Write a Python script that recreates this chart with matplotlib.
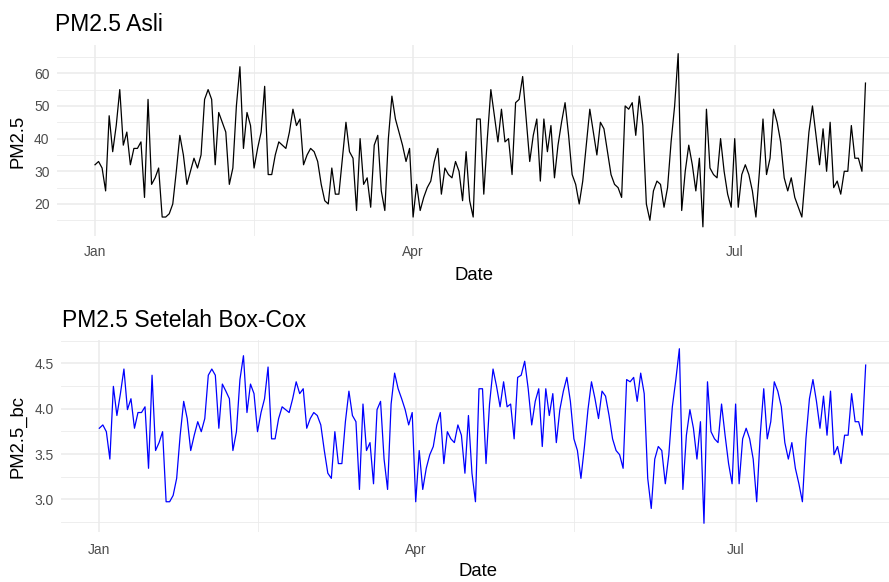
import matplotlib
matplotlib.use('Agg')
import matplotlib.pyplot as plt
import matplotlib.dates as mdates
from matplotlib.ticker import MultipleLocator, FixedLocator
import numpy as np
import pandas as pd

plt.rcParams['font.family'] = ['Liberation Sans', 'DejaVu Sans']

# daily PM2.5 values (1 Jan onwards)
pm25 = [32, 33, 31, 24, 47, 36, 44, 55, 38, 42, 32, 37, 37, 39, 22, 52, 26, 28, 31, 16,
        16, 17, 20, 30, 41, 35, 26, 30, 34, 31, 35, 52, 55, 52, 32, 48, 45, 42, 26, 31,
        50, 62, 37, 48, 44, 31, 37, 42, 56, 29, 29, 35, 39, 38, 37, 42, 49, 44, 46, 32,
        35, 37, 36, 33, 26, 21, 20, 31, 23, 23, 34, 45, 36, 34, 18, 40, 26, 28, 19, 38,
        41, 24, 18, 40, 53, 46, 42, 38, 33, 37, 16, 26, 18, 22, 25, 27, 33, 37, 23, 31,
        29, 28, 33, 30, 21, 36, 21, 16, 46, 46, 23, 40, 55, 47, 39, 49, 39, 40, 29, 51,
        52, 59, 46, 33, 41, 46, 27, 46, 36, 44, 28, 38, 45, 51, 41, 29, 26, 20, 27, 38,
        49, 42, 35, 45, 43, 36, 29, 26, 25, 22, 50, 49, 51, 41, 53, 44, 20, 15, 24, 27,
        26, 19, 25, 39, 50, 66, 18, 30, 38, 32, 24, 34, 13, 49, 31, 29, 28, 40, 30, 23,
        19, 40, 19, 29, 32, 29, 24, 16, 30, 46, 29, 34, 49, 45, 39, 28, 24, 28, 22, 19,
        16, 29, 42, 50, 41, 32, 43, 30, 45, 25, 27, 23, 30, 30, 44, 34, 34, 30, 57]
start_date = '2023-01-01'
bc_lambda = 0.05

month_ticks = ['2023-01-01', '2023-04-01', '2023-07-01']
mid_ticks = ['2023-02-15', '2023-05-16', '2023-08-16']

dates = pd.date_range(start_date, periods=len(pm25), freq='D')
pm25 = np.array(pm25, dtype=float)
pm25_bc = (pm25 ** bc_lambda - 1) / bc_lambda

W, H = 889, 582
fig = plt.figure(figsize=(W / 100, H / 100), dpi=100)

grey_text = '#4D4D4D'
grid_col = '#EBEBEB'


def px(x, y):
    return x / W, 1 - y / H


def style(ax, ymaj, ymin, xpad):
    ax.margins(x=0.05, y=0.05)
    ax.xaxis.set_major_locator(FixedLocator(mdates.date2num(pd.to_datetime(month_ticks))))
    ax.xaxis.set_minor_locator(FixedLocator(mdates.date2num(pd.to_datetime(mid_ticks))))
    ax.xaxis.set_major_formatter(mdates.DateFormatter('%b'))
    ax.yaxis.set_major_locator(MultipleLocator(ymaj))
    ax.yaxis.set_minor_locator(MultipleLocator(ymin))
    for s in ax.spines.values():
        s.set_visible(False)
    ax.tick_params(which='both', length=0, colors=grey_text, labelsize=10)
    ax.tick_params(axis='y', pad=5)
    ax.tick_params(axis='x', pad=xpad)
    ax.grid(which='major', color=grid_col, lw=1.1)
    ax.grid(which='minor', color=grid_col, lw=0.6)
    ax.set_axisbelow(True)


# top panel: original series
ax1 = fig.add_axes([56.5 / W, 1 - 235.5 / H, (904 - 56.5) / W, (235.5 - 45) / H])
ax1.plot(dates, pm25, color='black', lw=0.9)
style(ax1, 10, 5, 6.5)

# bottom panel: Box-Cox transformed series
ax2 = fig.add_axes([61 / W, 1 - 532 / H, (904 - 61) / W, (532 - 340) / H])
ax2.plot(dates, pm25_bc, color='blue', lw=0.9)
style(ax2, 0.5, 0.25, 8)

fig.text(*px(55, 31), 'PM2.5 Asli', fontsize=16.5, va='baseline', ha='left')
fig.text(*px(62, 327), 'PM2.5 Setelah Box-Cox', fontsize=16.5, va='baseline', ha='left')
fig.text(*px(474, 276), 'Date', fontsize=13.3, va='center', ha='center')
fig.text(*px(478, 572), 'Date', fontsize=13.3, va='center', ha='center')
fig.text(*px(18, 141), 'PM2.5', fontsize=13.3, rotation=90, va='center', ha='center')
fig.text(*px(18, 437), 'PM2.5_bc', fontsize=13.3, rotation=90, va='center', ha='center')

fig.savefig('out.png', dpi=100)
